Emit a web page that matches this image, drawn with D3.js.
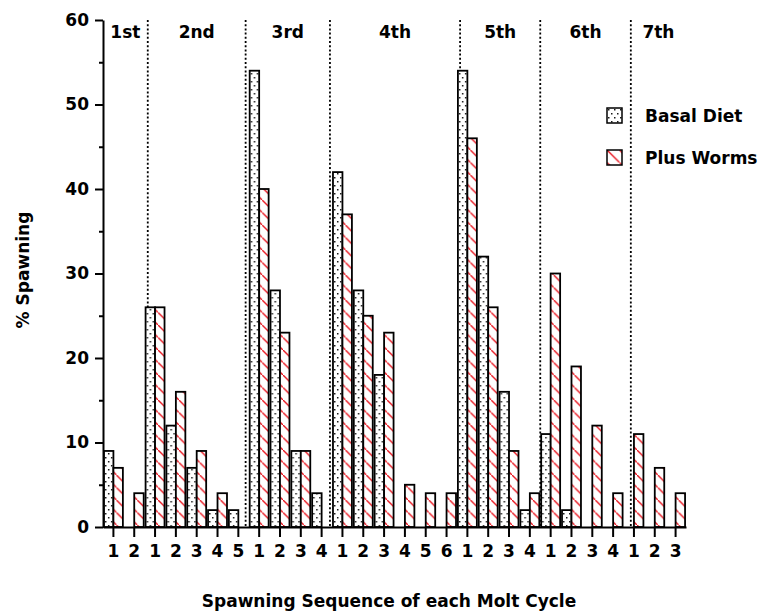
<!DOCTYPE html>
<html>
<head>
<meta charset="utf-8">
<script src="https://cdn.jsdelivr.net/npm/d3@7"></script>
<style>
  body { margin: 0; background: #fff; }
  svg text { font-family: "DejaVu Sans", Verdana, sans-serif; font-weight: bold; fill: #000; }
</style>
</head>
<body>
<svg id="chart" width="768" height="614"></svg>
<script>
// --- data ---
const series = ["Basal Diet", "Plus Worms"];
const molts = ["1st", "2nd", "3rd", "4th", "5th", "6th", "7th"];
const spawnsPerMolt = [2, 5, 4, 6, 4, 4, 3];
const basalDiet = [9, 0, 26, 12, 7, 2, 2, 54, 28, 9, 4, 42, 28, 18, 0, 0, 0, 54, 32, 16, 2, 11, 2, 0, 0, 0, 0, 0];
const plusWorms = [7, 4, 26, 16, 9, 4, 0, 40, 23, 9, 0, 37, 25, 23, 5, 4, 4, 46, 26, 9, 4, 30, 19, 12, 4, 11, 7, 4];
const yTicks = [0, 10, 20, 30, 40, 50, 60];
const yMinorTicks = [5, 15, 25, 35, 45, 55];
// dotted molt dividers, in category units along the x axis
const dividerAt = [2.15, 6.85, 10.9, 17.15, 21.0, 25.35];

// --- 1. Setup ---
const width = 768, height = 614;
const margin = { top: 20, right: 82, bottom: 87, left: 103 };
const svg = d3.select("#chart");

// flat list of categories: "1st-1", "1st-2", "2nd-1", ...
const cats = [];
molts.forEach((m, i) => {
    for (let k = 1; k <= spawnsPerMolt[i]; k++) cats.push(`${m}-${k}`);
});
const rows = cats.map((c, i) => ({ cat: c, values: [basalDiet[i], plusWorms[i]] }));

// --- 2. Scales ---
const x = d3.scaleBand()
    .domain(cats)
    .range([margin.left, width - margin.right])
    .paddingInner(0.09)
    .paddingOuter(0.045);

const xSub = d3.scaleBand()
    .domain(series)
    .range([0, x.bandwidth()]);

// linear twin of the band scale, for dividers and group labels
const xLin = d3.scaleLinear()
    .domain([0, cats.length])
    .range(x.range());

const y = d3.scaleLinear()
    .domain([0, 60])
    .range([height - margin.bottom, margin.top]);

// --- 3. Fill patterns ---
const defs = svg.append("defs");

const dots = defs.append("pattern")
    .attr("id", "dots")
    .attr("patternUnits", "userSpaceOnUse")
    .attr("width", 6).attr("height", 8);
dots.append("rect").attr("width", 6).attr("height", 8).attr("fill", "#fff");
dots.append("rect").attr("x", 1).attr("y", 1).attr("width", 1.5).attr("height", 1.5).attr("fill", "#1a1a1a");
dots.append("rect").attr("x", 4).attr("y", 5).attr("width", 1.5).attr("height", 1.5).attr("fill", "#1a1a1a");

const hatch = defs.append("pattern")
    .attr("id", "hatch")
    .attr("patternUnits", "userSpaceOnUse")
    .attr("width", 12.5).attr("height", 12.5);
hatch.append("rect").attr("width", 12.5).attr("height", 12.5).attr("fill", "#fff");
hatch.append("path")
    .attr("d", "M-2,-2 L14.5,14.5")
    .attr("stroke", "#e8101a")
    .attr("stroke-width", 1.4);

const fills = { "Basal Diet": "url(#dots)", "Plus Worms": "url(#hatch)" };

// --- 4. Dotted dividers (drawn first so bars cover them) ---
svg.append("g")
    .selectAll("line")
    .data(dividerAt)
    .join("line")
    .attr("x1", d => xLin(d))
    .attr("x2", d => xLin(d))
    .attr("y1", y(60))
    .attr("y2", y(0))
    .attr("stroke", "#000")
    .attr("stroke-width", 1.8)
    .attr("stroke-dasharray", "2,2.2");

// molt cycle labels, centred between dividers
const bounds = [0, ...dividerAt, cats.length];
svg.append("g")
    .selectAll("text")
    .data(molts)
    .join("text")
    .attr("x", (d, i) => (xLin(bounds[i]) + xLin(bounds[i + 1])) / 2)
    .attr("y", 38)
    .attr("text-anchor", "middle")
    .style("font-size", "17px")
    .text(d => d);

// --- 5. Bars ---
svg.append("g")
    .selectAll("g")
    .data(rows)
    .join("g")
    .attr("transform", d => `translate(${x(d.cat)},0)`)
    .selectAll("rect")
    .data(d => d.values.map((v, j) => ({ key: series[j], value: v })).filter(e => e.value > 0))
    .join("rect")
    .attr("x", d => xSub(d.key))
    .attr("y", d => y(d.value))
    .attr("width", xSub.bandwidth())
    .attr("height", d => y(0) - y(d.value))
    .attr("fill", d => fills[d.key])
    .attr("stroke", "#000")
    .attr("stroke-width", 1.8);

// --- 6. Axes ---
svg.append("g")
    .attr("transform", `translate(${margin.left},0)`)
    .call(d3.axisLeft(y).tickValues(yTicks).tickSize(8).tickSizeOuter(0).tickPadding(6));

svg.append("g")
    .attr("transform", `translate(${margin.left},0)`)
    .call(d3.axisLeft(y).tickValues(yMinorTicks).tickSize(4).tickSizeOuter(0).tickFormat(""))
    .select(".domain").remove();

svg.append("g")
    .attr("transform", `translate(0,${y(0)})`)
    .call(d3.axisBottom(x).tickSize(10).tickSizeOuter(0).tickPadding(8)
        .tickFormat(d => d.split("-")[1]));

svg.selectAll(".tick text")
    .style("font-size", "17px")
    .style("font-family", "'DejaVu Sans', sans-serif")
    .style("font-weight", "bold");
svg.selectAll(".domain, .tick line")
    .attr("stroke", "#000")
    .attr("stroke-width", 2);

// --- 7. Axis titles ---
svg.append("text")
    .attr("transform", `translate(29,270) rotate(-90)`)
    .attr("text-anchor", "middle")
    .style("font-size", "17px")
    .text("% Spawning");

svg.append("text")
    .attr("x", 389)
    .attr("y", 607)
    .attr("text-anchor", "middle")
    .style("font-size", "17px")
    .text("Spawning Sequence of each Molt Cycle");

// --- 8. Legend ---
const legend = svg.append("g")
    .attr("transform", "translate(607,108)");

const item = legend.selectAll("g")
    .data(series)
    .join("g")
    .attr("transform", (d, i) => `translate(0,${i * 42})`);

item.append("rect")
    .attr("width", 15)
    .attr("height", 15)
    .attr("fill", d => fills[d])
    .attr("stroke", "#000")
    .attr("stroke-width", 1.5);

item.append("text")
    .attr("x", 38)
    .attr("y", 14)
    .style("font-size", "17px")
    .text(d => d);
</script>
</body>
</html>
